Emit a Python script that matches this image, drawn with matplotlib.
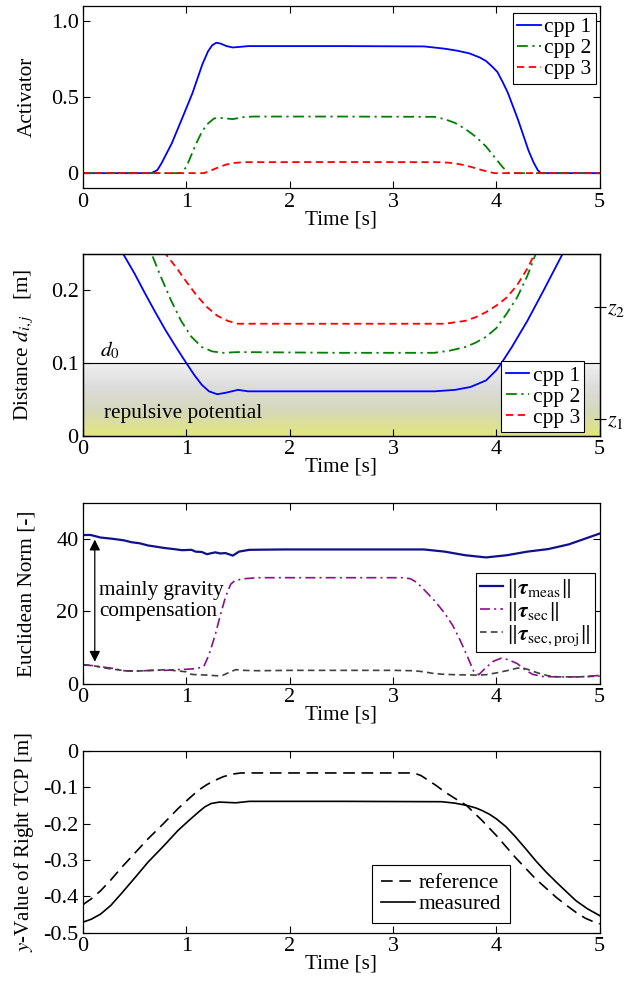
"""
Activator, distances, torque norms and TCP position of the right arm over one motion.
"""
import numpy as np
import matplotlib
matplotlib.use('Agg')
import matplotlib.pyplot as plt
from matplotlib.colors import LinearSegmentedColormap

plt.rcParams['font.family'] = ['Liberation Serif', 'DejaVu Serif']
plt.rcParams['mathtext.fontset'] = 'stix'
plt.rcParams['axes.unicode_minus'] = False
plt.rcParams['font.size'] = 15

TICK_FS = 16
LABEL_FS = 15.3
LEG_FS = 15.5
YLABEL_X = -0.09

# ---------------- activator ----------------
t_act1 = [0, 0.66, 0.72, 0.76, 0.86, 0.96, 1.06, 1.155, 1.21, 1.25, 1.29, 1.33, 1.39, 1.45, 1.52, 1.6, 2.5, 3.3,
          3.5, 3.62, 3.74, 3.84, 3.9, 3.96, 4.01, 4.06, 4.11, 4.16, 4.21, 4.26, 4.31, 4.36, 4.4, 4.43, 5]
act1 = [0, 0, 0.02, 0.064, 0.196, 0.36, 0.526, 0.714, 0.8, 0.84, 0.857, 0.852, 0.835, 0.826, 0.83, 0.835, 0.835,
        0.833, 0.818, 0.805, 0.787, 0.76, 0.737, 0.7, 0.665, 0.6, 0.53, 0.44, 0.35, 0.25, 0.15, 0.07, 0.02, 0, 0]
t_act2 = [0, 0.95, 1.0, 1.05, 1.1, 1.15, 1.2, 1.27, 1.35, 1.45, 1.55, 1.65, 2.5, 3.4, 3.5, 3.6, 3.7, 3.8, 3.9,
          4.0, 4.06, 4.12, 5]
act2 = [0, 0, 0.04, 0.12, 0.2, 0.27, 0.32, 0.36, 0.362, 0.355, 0.368, 0.372, 0.372, 0.37, 0.355, 0.33, 0.29,
        0.24, 0.175, 0.09, 0.04, 0, 0]
t_act3 = [0, 1.17, 1.22, 1.3, 1.38, 1.45, 1.55, 2.5, 3.45, 3.55, 3.65, 3.75, 3.85, 3.93, 3.98, 5]
act3 = [0, 0, 0.012, 0.035, 0.055, 0.066, 0.072, 0.073, 0.072, 0.068, 0.058, 0.042, 0.022, 0.008, 0, 0]

# ---------------- distances ----------------
t_d1 = [0.3, 0.39, 0.5, 0.6, 0.7, 0.8, 0.9, 1.0, 1.08, 1.15, 1.22, 1.3, 1.38, 1.5, 1.6, 2.5, 3.4, 3.6, 3.75,
        3.9, 4.0, 4.05, 4.15, 4.3, 4.45, 4.64, 4.7]
d1 = [0.28, 0.25, 0.223, 0.196, 0.17, 0.145, 0.122, 0.1, 0.083, 0.07, 0.061, 0.057, 0.059, 0.063, 0.061, 0.061,
      0.061, 0.063, 0.067, 0.076, 0.09, 0.1, 0.122, 0.158, 0.198, 0.25, 0.265]
t_d2 = [0.6, 0.665, 0.75, 0.85, 0.95, 1.05, 1.15, 1.25, 1.35, 1.5, 2.5, 3.4, 3.55, 3.7, 3.8, 3.9, 4.0, 4.1,
        4.2, 4.3, 4.38, 4.45]
d2 = [0.275, 0.25, 0.22, 0.187, 0.158, 0.136, 0.122, 0.116, 0.114, 0.115, 0.114, 0.114, 0.117, 0.122, 0.128,
      0.136, 0.148, 0.168, 0.19, 0.22, 0.25, 0.27]
t_d3 = [0.75, 0.8, 0.9, 1.0, 1.1, 1.2, 1.3, 1.4, 1.5, 2.5, 3.5, 3.6, 3.7, 3.8, 3.9, 4.0, 4.1, 4.2, 4.3, 4.37, 4.45]
d3 = [0.27, 0.25, 0.232, 0.212, 0.193, 0.177, 0.165, 0.158, 0.154, 0.154, 0.154, 0.156, 0.158, 0.163, 0.17,
      0.179, 0.19, 0.207, 0.23, 0.25, 0.27]
d0 = 0.1
z_ticks = [0.0225, 0.1767]
z_labels = ['$z_1$', '$z_2$']

# ---------------- torque norms ----------------
t_meas = [0, 0.075, 0.17, 0.3, 0.4, 0.47, 0.55, 0.63, 0.7, 0.79, 0.88, 0.96, 1.05, 1.09, 1.15, 1.2, 1.28, 1.33,
          1.38, 1.45, 1.51, 1.61, 1.94, 2.59, 3.3, 3.5, 3.6, 3.7, 3.9, 4.1, 4.3, 4.5, 4.7, 4.9, 5.0]
tau_meas = [41.1, 41.1, 40.4, 40.0, 39.6, 39.1, 38.8, 38.2, 37.9, 37.5, 37.2, 36.9, 37.0, 36.5, 36.4, 35.8, 36.3,
            36.0, 36.1, 35.4, 36.5, 37.0, 37.1, 37.1, 37.1, 36.5, 36.0, 35.5, 34.9, 35.5, 36.5, 37.2, 38.5, 40.5,
            41.5]
t_sec = [0, 0.1, 0.2, 0.3, 0.4, 0.5, 0.6, 0.7, 0.8, 0.9, 1.0, 1.1, 1.17, 1.22, 1.28, 1.33, 1.38, 1.43, 1.47,
         1.55, 1.7, 2.5, 3.1, 3.17, 3.23, 3.3, 3.4, 3.5, 3.58, 3.65, 3.72, 3.78, 3.83, 3.9, 3.97, 4.05, 4.12, 4.2,
         4.28, 4.35, 4.45, 4.6, 4.8, 5.0]
tau_sec = [5.2, 5.0, 4.6, 4.2, 3.6, 3.5, 3.6, 3.8, 3.7, 3.9, 4.0, 4.2, 4.8, 8.0, 13.5, 19.0, 24.0, 27.5, 28.5,
           29.0, 29.3, 29.3, 29.3, 29.0, 28.0, 26.0, 23.0, 19.5, 16.0, 12.0, 7.5, 3.5, 2.5, 4.5, 6.2, 7.1, 6.6,
           5.6, 3.8, 2.6, 2.0, 1.9, 1.9, 2.3]
t_proj = [0, 0.1, 0.2, 0.3, 0.4, 0.5, 0.6, 0.7, 0.8, 0.9, 1.0, 1.05, 1.1, 1.2, 1.3, 1.35, 1.42, 1.48, 1.55, 1.7,
          2.0, 3.0, 3.2, 3.3, 3.4, 3.5, 3.6, 3.8, 3.9, 4.0, 4.1, 4.2, 4.25, 4.3, 4.4, 4.5, 4.6, 4.8, 5.0]
tau_proj = [5.3, 5.0, 4.4, 4.0, 3.6, 3.5, 3.6, 3.7, 3.9, 3.6, 3.3, 2.6, 2.5, 2.4, 2.2, 2.3, 3.2, 3.9, 3.7, 3.6,
            3.7, 3.7, 3.6, 3.3, 2.8, 2.6, 2.5, 2.4, 2.5, 3.0, 3.6, 4.3, 4.4, 4.0, 3.0, 2.2, 1.9, 1.9, 2.1]

# ---------------- right TCP ----------------
t_ref = [0, 0.08, 0.17, 0.27, 0.37, 0.5, 0.63, 0.78, 0.92, 1.02, 1.12, 1.2, 1.28, 1.36, 1.45, 1.53, 1.61, 2.5,
         3.2, 3.27, 3.34, 3.42, 3.5, 3.6, 3.71, 3.86, 4.0, 4.18, 4.38, 4.58, 4.68, 4.77, 4.86, 4.95, 5.0]
y_ref = [-0.423, -0.407, -0.385, -0.355, -0.322, -0.282, -0.242, -0.2, -0.159, -0.133, -0.108, -0.093, -0.081,
         -0.071, -0.064, -0.061, -0.061, -0.061, -0.061, -0.068, -0.081, -0.096, -0.113, -0.131, -0.15, -0.191,
         -0.233, -0.292, -0.352, -0.403, -0.425, -0.444, -0.46, -0.471, -0.476]
t_mea = [0, 0.08, 0.17, 0.27, 0.37, 0.5, 0.63, 0.78, 0.92, 1.02, 1.12, 1.18, 1.24, 1.32, 1.48, 1.61, 2.5, 3.47,
         3.6, 3.71, 3.8, 3.86, 3.93, 4.0, 4.09, 4.18, 4.28, 4.38, 4.48, 4.58, 4.68, 4.77, 4.88, 5.0]
y_mea = [-0.471, -0.463, -0.449, -0.425, -0.393, -0.35, -0.306, -0.262, -0.219, -0.193, -0.168, -0.154, -0.145,
         -0.141, -0.143, -0.139, -0.139, -0.140, -0.144, -0.15, -0.157, -0.164, -0.174, -0.187, -0.208, -0.235,
         -0.268, -0.302, -0.333, -0.361, -0.388, -0.412, -0.434, -0.453]

xticks = [0, 1, 2, 3, 4, 5]


def style_axes(ax, top=True, right=True):
    ax.tick_params(direction='in', length=5, width=0.8, top=top, right=right, labelsize=TICK_FS, pad=3)
    for s in ax.spines.values():
        s.set_linewidth(0.9)
    ax.set_xlim(0, 5)
    ax.set_xticks(xticks)
    ax.set_xlabel('Time [s]', fontsize=LABEL_FS, labelpad=-1)


def set_ylab(ax, text, fs=LABEL_FS):
    ax.set_ylabel(text, fontsize=fs)
    ax.yaxis.set_label_coords(YLABEL_X, 0.5)


def box_legend(ax, fs=LEG_FS, hl=1.1, pad=0.2, sp=0.05, **kw):
    leg = ax.legend(frameon=True, fancybox=False, framealpha=1, edgecolor='k', fontsize=fs,
                    borderpad=pad, handlelength=hl, handletextpad=0.15, labelspacing=sp,
                    borderaxespad=0.0, **kw)
    leg.get_frame().set_linewidth(0.8)
    return leg


fig = plt.figure(figsize=(6.28, 9.81), dpi=100)
L, W = 0.132, 0.823
ax1 = fig.add_axes([L, 0.808, W, 0.1861])
ax2 = fig.add_axes([L, 0.5559, W, 0.1852])
ax3 = fig.add_axes([L, 0.303, W, 0.1845])
ax4 = fig.add_axes([L, 0.0492, W, 0.1855])

# activator
ax1.plot(t_act1, act1, color='#0000ff', lw=1.3, label='cpp 1')
ax1.plot(t_act2, act2, color='#008000', lw=1.3, ls=(0, (6, 2.5, 1.2, 2.5)), label='cpp 2')
ax1.plot(t_act3, act3, color='#ff0000', lw=1.3, ls=(0, (4, 2.5)), label='cpp 3')
style_axes(ax1)
ax1.set_ylim(-0.1, 1.1)
ax1.set_yticks([0, 0.5, 1.0])
ax1.set_yticklabels(['0', '0.5', '1.0'])
set_ylab(ax1, 'Activator')
box_legend(ax1, loc='upper right', bbox_to_anchor=(0.992, 0.962))

# distances with repulsive zone shading
cmap = LinearSegmentedColormap.from_list('rep', ['#e1e87a', '#d6d8b8', '#dcdcdc', '#f0f0f0'])
grad = np.linspace(0, 1, 256).reshape(-1, 1)
ax2.imshow(grad, extent=[0, 5, 0, d0], origin='lower', aspect='auto', cmap=cmap, zorder=0)
ax2.axhline(d0, color='k', lw=0.8, zorder=1)
ax2.plot(t_d1, d1, color='#0000ff', lw=1.3, label='cpp 1', zorder=3)
ax2.plot(t_d2, d2, color='#008000', lw=1.3, ls=(0, (6, 2.5, 1.2, 2.5)), label='cpp 2', zorder=3)
ax2.plot(t_d3, d3, color='#ff0000', lw=1.3, ls=(0, (4, 2.5)), label='cpp 3', zorder=3)
style_axes(ax2, top=False, right=False)
ax2.set_ylim(0, 0.25)
ax2.set_yticks([0, 0.1, 0.2])
ax2.set_yticklabels(['0', '0.1', '0.2'])
set_ylab(ax2, 'Distance $d_{i,j}$   [m]')
ax2.text(0.17, d0 + 0.003, '$d_0$', fontsize=LABEL_FS, ha='left', va='bottom')
ax2.text(0.2, 0.031, 'repulsive potential', fontsize=LABEL_FS, ha='left', va='center')
box_legend(ax2, loc='lower right', bbox_to_anchor=(0.970, 0.019))
axz = ax2.twinx()
axz.set_ylim(0, 0.25)
axz.set_yticks(z_ticks)
axz.set_yticklabels(z_labels)
axz.tick_params(direction='inout', length=8, width=0.8, labelsize=TICK_FS, pad=1)
for s in axz.spines.values():
    s.set_linewidth(0.9)

# torque norms
ax3.plot(t_meas, tau_meas, color='#10108c', lw=1.6, label=r'$\|\boldsymbol{\tau}_{\mathrm{meas}}\|$')
ax3.plot(t_sec, tau_sec, color='#8b118b', lw=1.2, ls=(0, (6, 2.5, 1.2, 2.5)),
         label=r'$\|\boldsymbol{\tau}_{\mathrm{sec}}\|$')
ax3.plot(t_proj, tau_proj, color='#404040', lw=1.2, ls=(0, (4, 2.5)),
         label=r'$\|\boldsymbol{\tau}_{\mathrm{sec,proj}}\|$')
style_axes(ax3)
ax3.set_ylim(0, 50)
ax3.set_yticks([0, 20, 40])
set_ylab(ax3, 'Euclidean Norm [-]')
ax3.annotate('', xy=(0.115, 5.3), xytext=(0.115, 40.6),
             arrowprops=dict(arrowstyle='<|-|>', color='k', lw=0.9, mutation_scale=16))
ax3.text(0.16, 22.8, 'mainly gravity\ncompensation', fontsize=LABEL_FS, ha='left', va='center',
         linespacing=1.15)
box_legend(ax3, fs=16, hl=1.0, sp=0.0, loc='lower right', bbox_to_anchor=(0.990, 0.175))

# right TCP
ax4.plot(t_ref, y_ref, color='k', lw=1.2, ls=(0, (7, 4)), label='reference')
ax4.plot(t_mea, y_mea, color='k', lw=1.2, label='measured')
style_axes(ax4)
ax4.set_ylim(-0.5, 0)
ax4.set_yticks([-0.5, -0.4, -0.3, -0.2, -0.1, 0])
ax4.set_yticklabels(['-0.5', '-0.4', '-0.3', '-0.2', '-0.1', '0'])
set_ylab(ax4, '$y$-Value of Right TCP [m]', fs=15)
box_legend(ax4, hl=1.6, pad=0.4, loc='lower right', bbox_to_anchor=(0.826, 0.053))

fig.savefig('out.png', dpi=100)
